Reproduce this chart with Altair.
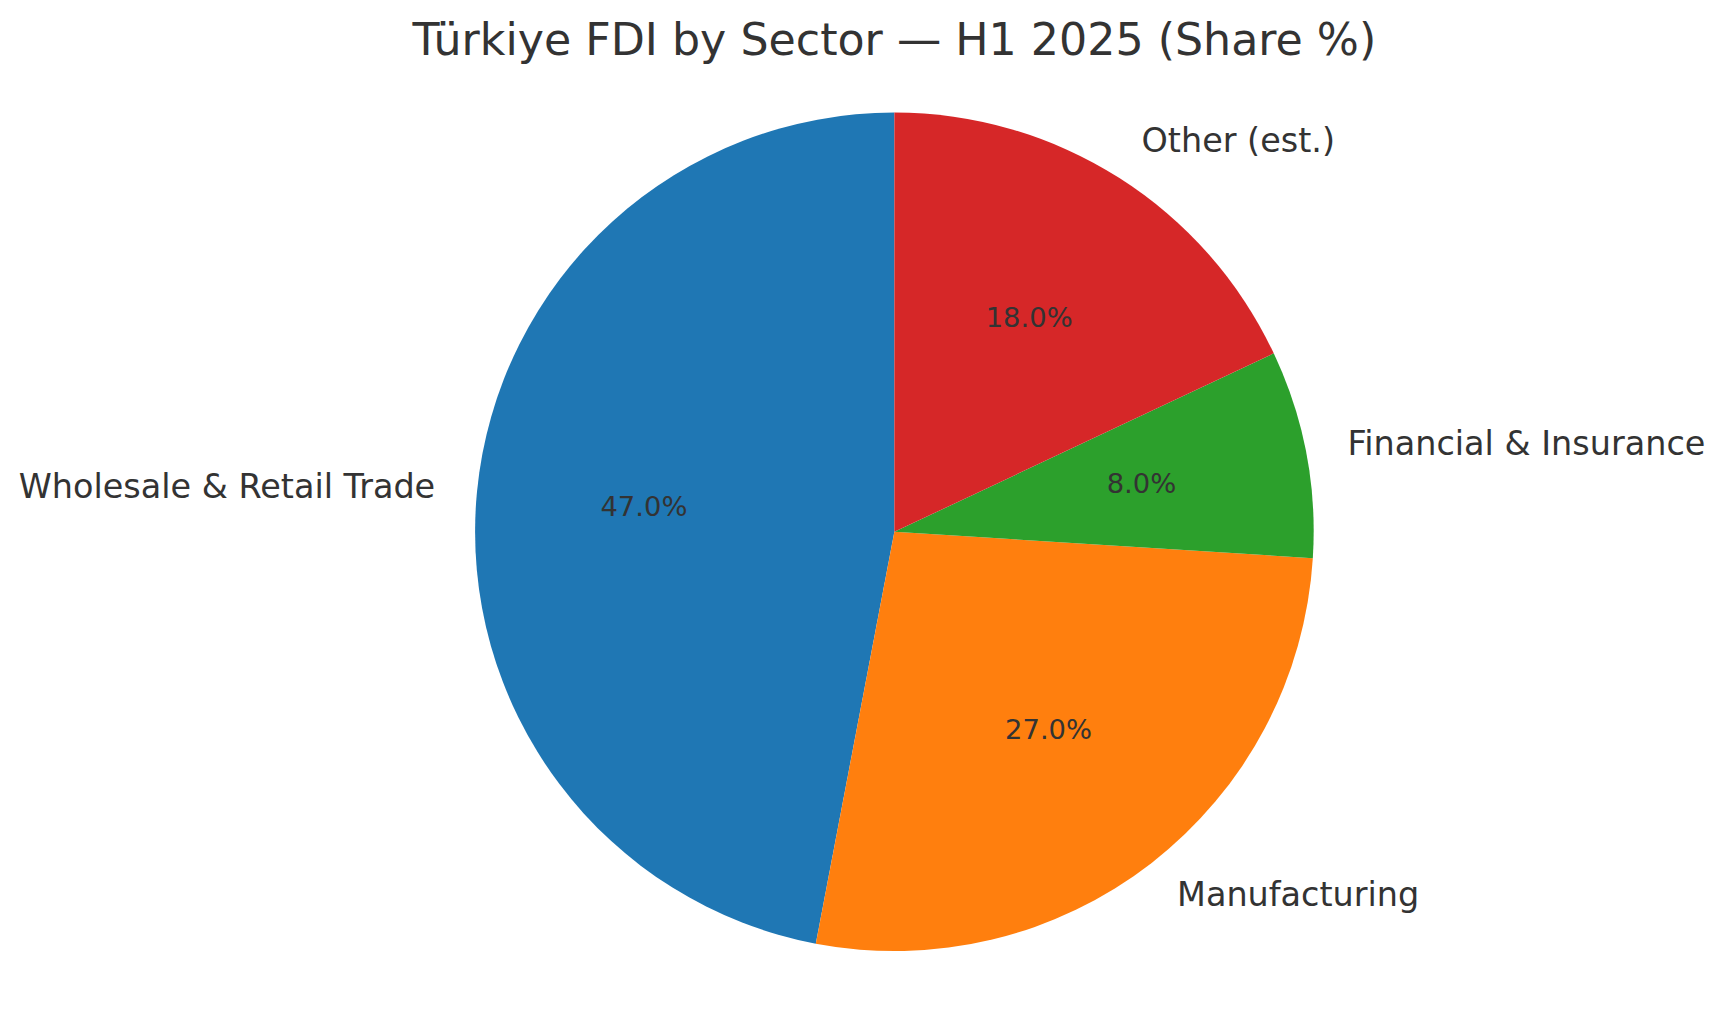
import altair as alt
import pandas as pd

sectors = ["Wholesale & Retail Trade", "Manufacturing", "Financial & Insurance", "Other (est.)"]
shares = [47.0, 27.0, 8.0, 18.0]
colors = ["#1f77b4", "#ff7f0e", "#2ca02c", "#d62728"]
# clockwise drawing order (matplotlib draws counter-clockwise from the top)
draw_order = [4, 3, 2, 1]

df = pd.DataFrame({"sector": sectors, "share": shares, "ord": draw_order})

R = 421
TEXT = "#333333"

base = alt.Chart(df).transform_window(
    cum="sum(share)", sort=[alt.SortField("ord")], frame=[None, 0]
).transform_calculate(
    mid="datum.cum - datum.share / 2",
    pct="format(datum.share, '.1f') + '%'",
)

theta_scale = alt.Scale(domain=[0, 100], range=[0, 6.283185307179586], zero=True, nice=False)

color_enc = alt.Color("sector:N", scale=alt.Scale(domain=sectors, range=colors), legend=None)

arcs = alt.Chart(df).mark_arc(radius=R, stroke=None).encode(
    theta=alt.Theta("share:Q", stack=True, scale=theta_scale),
    color=color_enc,
    order=alt.Order("ord:Q"),
)

lab_right = base.transform_filter("datum.mid < 50").mark_text(
    radius=R * 1.1, align="left", baseline="middle", font="DejaVu Sans", fontSize=33.6, color=TEXT
).encode(theta=alt.Theta("mid:Q", scale=theta_scale), text="sector:N")

lab_left = base.transform_filter("datum.mid >= 50").mark_text(
    radius=R * 1.1, align="right", baseline="middle", font="DejaVu Sans", fontSize=33.6, color=TEXT
).encode(theta=alt.Theta("mid:Q", scale=theta_scale), text="sector:N")

pct = base.mark_text(
    radius=R * 0.6, align="center", baseline="middle", font="DejaVu Sans", fontSize=27.5, color=TEXT
).encode(theta=alt.Theta("mid:Q", scale=theta_scale), text="pct:N")

chart = alt.layer(arcs, lab_right, lab_left, pct).properties(
    width=1600,
    height=884,
    padding={"left": 90, "top": 82, "right": 26, "bottom": 0},
    autosize=alt.AutoSizeParams(type="none"),
    title=alt.TitleParams(
        "Türkiye FDI by Sector — H1 2025 (Share %)",
        font="DejaVu Sans", fontSize=44.5, fontWeight="normal", color=TEXT,
        anchor="middle", baseline="alphabetic", offset=32, dy=40,
    ),
).configure_view(stroke=None)

chart.save("out.html", embed_options={"renderer": "svg", "actions": False})
